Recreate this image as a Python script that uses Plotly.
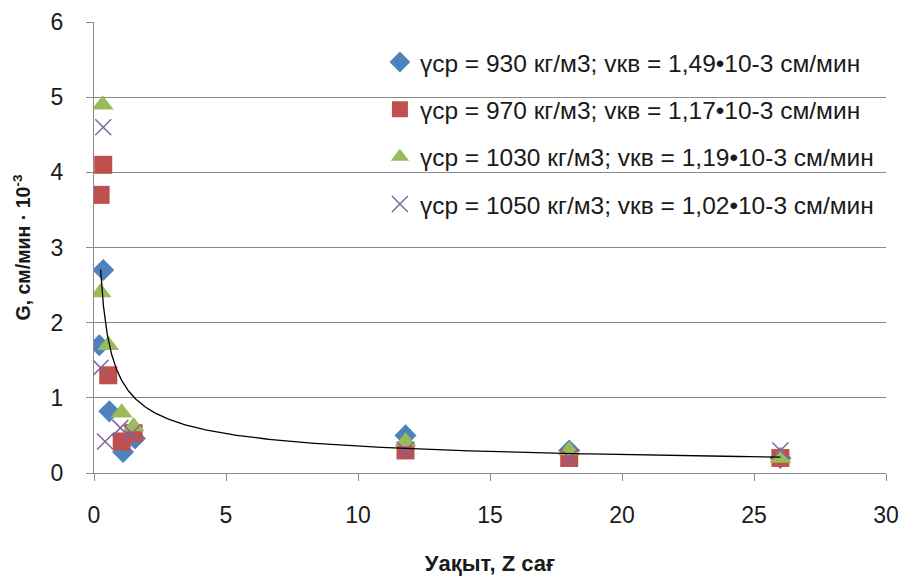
import numpy as np
import plotly.graph_objects as go

# Series data (time, hours ; G, cm/min * 10^-3)
x930 = [0.35, 0.2, 0.58, 1.1, 1.55, 11.8, 18.0, 26.0]
y930 = [2.7, 1.7, 0.82, 0.28, 0.46, 0.5, 0.3, 0.2]
x970 = [0.25, 0.35, 0.54, 1.05, 1.5, 11.8, 18.0, 26.0]
y970 = [3.7, 4.1, 1.3, 0.42, 0.53, 0.3, 0.2, 0.2]
x1030 = [0.33, 0.25, 0.54, 1.05, 1.5, 11.8, 18.0, 26.0]
y1030 = [4.9, 2.4, 1.7, 0.8, 0.62, 0.42, 0.3, 0.2]
x1050 = [0.35, 0.25, 0.42, 1.0, 1.43, 11.8, 18.0, 26.0]
y1050 = [4.6, 1.4, 0.42, 0.6, 0.53, 0.3, 0.2, 0.3]

names = [
    "үср = 930 кг/м3; vкв = 1,49•10-3 см/мин",
    "үср = 970 кг/м3; vкв = 1,17•10-3 см/мин",
    "үср = 1030 кг/м3; vкв = 1,19•10-3 см/мин",
    "үср = 1050 кг/м3; vкв = 1,02•10-3 см/мин",
]
x_ticks = [0, 5, 10, 15, 20, 25, 30]
y_ticks = [0, 1, 2, 3, 4, 5, 6]

# Power trend line fitted on the 1030 kg/m3 series
fx = np.array(x1030)
fy = np.array(y1030)
b, lna = np.polyfit(np.log(fx), np.log(fy), 1)
tx = np.geomspace(fx.min(), fx.max(), 300)
ty = np.exp(lna) * tx ** b

fig = go.Figure()

styles = [
    dict(symbol="diamond", color="#4F81BD", size=17),
    dict(symbol="square", color="#C0504D", size=18),
    dict(symbol="triangle-up", color="#9BBB59", size=19),
    dict(symbol="x-thin-open", color="#8064A2", size=16),
]
series = [(x930, y930), (x970, y970), (x1030, y1030), (x1050, y1050)]
for i, ((xs, ys), nm, st) in enumerate(zip(series, names, styles)):
    marker = dict(symbol=st["symbol"], color=st["color"], size=st["size"])
    if st["symbol"] == "x-thin-open":
        marker["line"] = dict(color=st["color"], width=1.5)
    fig.add_trace(go.Scatter(x=xs, y=ys, mode="markers", name=nm, marker=marker,
                             legendgroup=f"g{i}"))

fig.add_trace(go.Scatter(x=tx, y=ty, mode="lines", line=dict(color="black", width=1.3),
                         showlegend=False, hoverinfo="skip"))

font_fam = "Liberation Sans, Arial, sans-serif"
fig.update_layout(
    width=904, height=578,
    margin=dict(l=94, r=18, t=22, b=105),
    paper_bgcolor="white", plot_bgcolor="white",
    font=dict(family=font_fam, size=23, color="#1a1a1a"),
    legend=dict(x=0.361, y=0.961, xanchor="left", yanchor="top",
                bgcolor="rgba(255,255,255,0)", font=dict(size=24.5, color="#1a1a1a"),
                tracegroupgap=12.5, itemsizing="trace"),
    xaxis=dict(range=[0, 30], tickvals=x_ticks, showgrid=False, zeroline=False,
               showline=True, linecolor="#8a8a8a", linewidth=1.3,
               ticks="outside", ticklen=7, tickcolor="#8a8a8a", automargin=False,
               tickfont=dict(size=23), ticklabelstandoff=14,
               title=dict(text="<b>Уақыт, Z сағ</b>", font=dict(size=22), standoff=28)),
    yaxis=dict(range=[0, 6], tickvals=y_ticks, showgrid=True, gridcolor="#8a8a8a",
               gridwidth=1, zeroline=False, showline=True, linecolor="#8a8a8a",
               linewidth=1.3, ticks="outside", ticklen=7, tickcolor="#8a8a8a",
               automargin=False,
               tickfont=dict(size=23), ticklabelstandoff=18,
               title=dict(text="<b>G, см/мин · 10<sup>-3</sup></b>", font=dict(size=19.5),
                          standoff=14)),
)

fig.write_html("out.html")
